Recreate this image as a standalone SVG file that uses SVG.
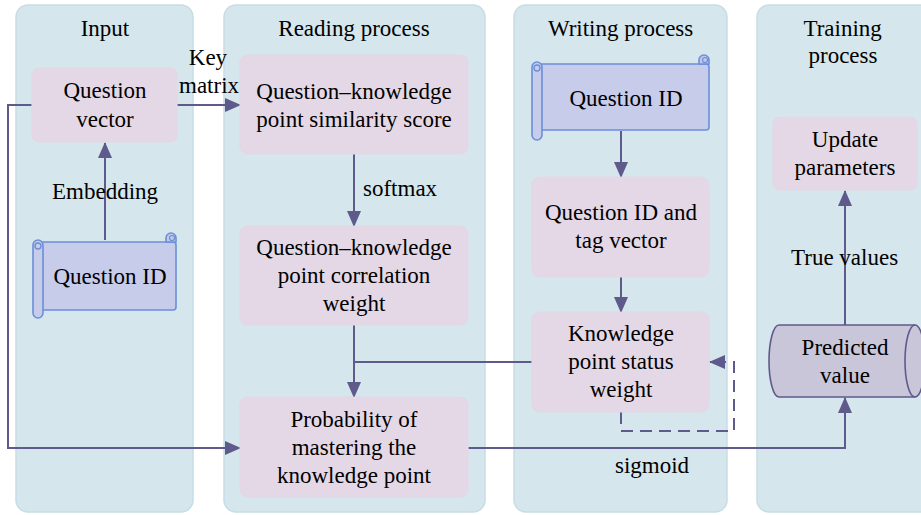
<svg xmlns="http://www.w3.org/2000/svg" width="921" height="515" viewBox="0 0 921 515">
<defs>
<marker id="ar" markerUnits="userSpaceOnUse" markerWidth="16" markerHeight="14" refX="15" refY="7" orient="auto">
<path d="M0,0 L16,7 L0,14 Z" fill="#5f5a8c"/>
</marker>
</defs>
<style>
.panel{fill:#d5e6ec;stroke:#c6dde5;stroke-width:1.5}
.box{fill:#e5d8e6;stroke:#e4d6e6;stroke-width:1.2}
.scroll{fill:#c8cceb;stroke:#6b8fd9;stroke-width:1.6}
.c{fill:none;stroke:#5f5a8c;stroke-width:2}
.d{fill:none;stroke:#5f5a8c;stroke-width:2;stroke-dasharray:12,7}
</style>
<rect width="921" height="515" fill="#ffffff"/>

<g id="panels">
<rect class="panel" x="16" y="5" width="177" height="507" rx="12"/>
<rect class="panel" x="224" y="5" width="261" height="507" rx="12"/>
<rect class="panel" x="514" y="5" width="213" height="507" rx="12"/>
<rect class="panel" x="757" y="5" width="180" height="507" rx="12"/>
<text font-family="Liberation Serif" font-size="23" x="80.7" y="36">Input</text>
<text font-family="Liberation Serif" font-size="23" x="278.3" y="36">Reading process</text>
<text font-family="Liberation Serif" font-size="23" x="547.9" y="36">Writing process</text>
<text font-family="Liberation Serif" font-size="23" x="803.4" y="36">Training</text>
<text font-family="Liberation Serif" font-size="23" x="808.5" y="63">process</text>
</g>

<g id="connectors">
<path class="c" d="M105,240 L105,143" marker-end="url(#ar)"/>
<path class="c" d="M177,105 L240,105" marker-end="url(#ar)"/>
<path class="c" d="M32,105 L8,105 L8,448 L240,448" marker-end="url(#ar)"/>
<path class="c" d="M354,154 L354,226" marker-end="url(#ar)"/>
<path class="c" d="M354,325 L354,397" marker-end="url(#ar)"/>
<path class="c" d="M354,362 L532,362"/>
<path class="c" d="M468,448 L845,448 L845,398" marker-end="url(#ar)"/>
<path class="c" d="M621,131 L621,177" marker-end="url(#ar)"/>
<path class="c" d="M621,277 L621,312" marker-end="url(#ar)"/>
<path class="d" d="M621,412 L621,431 L734,431 L734,362 L725,362"/>
<path class="c" d="M726,362 L710,362" marker-end="url(#ar)"/>
<path class="c" d="M845,325 L845,191" marker-end="url(#ar)"/>
<text font-family="Liberation Serif" font-size="23" x="188.8" y="65">Key</text>
<text font-family="Liberation Serif" font-size="23" x="179" y="93">matrix</text>
<text font-family="Liberation Serif" font-size="23" x="52" y="199">Embedding</text>
<text font-family="Liberation Serif" font-size="23" x="363" y="196">softmax</text>
<text font-family="Liberation Serif" font-size="23" x="615" y="473">sigmoid</text>
<text font-family="Liberation Serif" font-size="23" x="791" y="265">True values</text>
</g>

<g id="question-vector">
<rect class="box" x="32" y="68" width="145" height="74" rx="7"/>
<text font-family="Liberation Serif" font-size="23" x="63.5" y="98">Question</text>
<text font-family="Liberation Serif" font-size="23" x="76.3" y="127">vector</text>
</g>

<g id="question-id-input">
<rect class="scroll" x="38" y="242" width="138" height="68" rx="3"/>
<rect class="scroll" x="33" y="240" width="10" height="78" rx="5"/>
<circle cx="38" cy="246" r="3" fill="none" stroke="#6b8fd9" stroke-width="1.4"/>
<path d="M166,242 L166,238 A5,5 0 0 1 176,238 L176,242 Z" fill="#c3c8e9" stroke="#6b8fd9" stroke-width="1.6"/>
<circle cx="172" cy="238" r="2.5" fill="none" stroke="#6b8fd9" stroke-width="1.2"/>
<text font-family="Liberation Serif" font-size="23" x="53.5" y="284">Question ID</text>
</g>

<g id="similarity-score">
<rect class="box" x="240" y="55" width="228" height="99" rx="8"/>
<text font-family="Liberation Serif" font-size="23" x="256.3" y="99">Question–knowledge</text>
<text font-family="Liberation Serif" font-size="23" x="256.3" y="127">point similarity score</text>
</g>

<g id="correlation-weight">
<rect class="box" x="240" y="226" width="228" height="99" rx="8"/>
<text font-family="Liberation Serif" font-size="23" x="256.3" y="255">Question–knowledge</text>
<text font-family="Liberation Serif" font-size="23" x="277.7" y="283">point correlation</text>
<text font-family="Liberation Serif" font-size="23" x="322.7" y="311">weight</text>
</g>

<g id="probability">
<rect class="box" x="240" y="397" width="228" height="100" rx="8"/>
<text font-family="Liberation Serif" font-size="23" x="290.4" y="427">Probability of</text>
<text font-family="Liberation Serif" font-size="23" x="291.7" y="455">mastering the</text>
<text font-family="Liberation Serif" font-size="23" x="277" y="483">knowledge point</text>
</g>

<g id="question-id-writing">
<rect class="scroll" x="537" y="64" width="172" height="66" rx="3"/>
<rect class="scroll" x="532" y="62" width="10" height="78" rx="5"/>
<circle cx="537" cy="68" r="3" fill="none" stroke="#6b8fd9" stroke-width="1.4"/>
<path d="M699,64 L699,60 A5,5 0 0 1 709,60 L709,64 Z" fill="#c3c8e9" stroke="#6b8fd9" stroke-width="1.6"/>
<circle cx="705" cy="60" r="2.5" fill="none" stroke="#6b8fd9" stroke-width="1.2"/>
<text font-family="Liberation Serif" font-size="23" x="569.5" y="106">Question ID</text>
</g>

<g id="id-tag-vector">
<rect class="box" x="532" y="177" width="177" height="100" rx="8"/>
<text font-family="Liberation Serif" font-size="23" x="545" y="220">Question ID and</text>
<text font-family="Liberation Serif" font-size="23" x="575.3" y="248">tag vector</text>
</g>

<g id="status-weight">
<rect class="box" x="532" y="312" width="177" height="100" rx="8"/>
<text font-family="Liberation Serif" font-size="23" x="568" y="341">Knowledge</text>
<text font-family="Liberation Serif" font-size="23" x="568.3" y="369">point status</text>
<text font-family="Liberation Serif" font-size="23" x="589.7" y="397">weight</text>
</g>

<g id="update-parameters">
<rect class="box" x="773" y="117" width="144" height="73" rx="7"/>
<text font-family="Liberation Serif" font-size="23" x="811.8" y="147">Update</text>
<text font-family="Liberation Serif" font-size="23" x="794.5" y="175">parameters</text>
</g>

<g id="predicted-value">
<path d="M779,325 L915,325 A10,36 0 0 1 915,397 L779,397 A10,36 0 0 1 779,325 Z" fill="#c9c6da" stroke="#5f5a8c" stroke-width="1.6"/>
<path d="M915,325 A10,36 0 0 0 915,397" fill="none" stroke="#5f5a8c" stroke-width="1.6"/>
<text font-family="Liberation Serif" font-size="23" x="801.6" y="355">Predicted</text>
<text font-family="Liberation Serif" font-size="23" x="820.1" y="383">value</text>
</g>
</svg>
